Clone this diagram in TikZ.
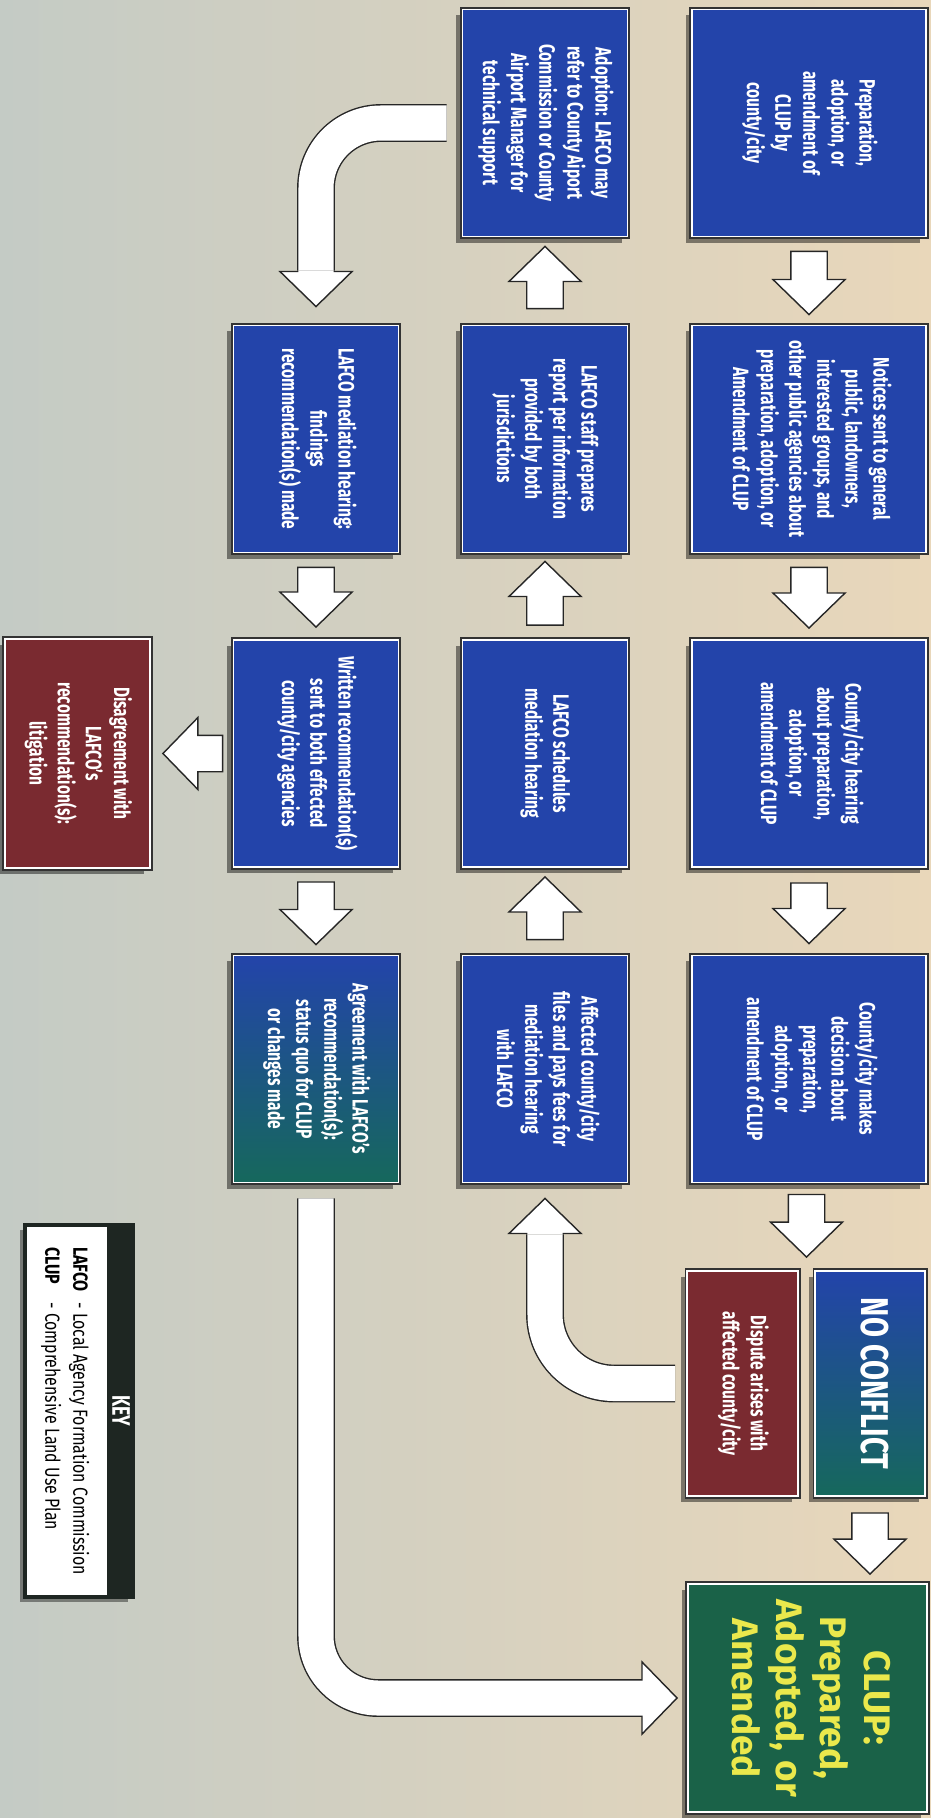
\documentclass[tikz,border=0pt]{standalone}
\usepackage{fontspec}
\usepackage{graphicx}
\setmainfont{Fira Sans}
\newfontfamily\condfont{Fira Sans}[FakeStretch=0.7]
\newfontfamily\widefont{Fira Sans}[FakeStretch=0.75]
\newfontfamily\keyfont{Fira Sans}[FakeStretch=0.78]
\usetikzlibrary{calc, shadows}

\definecolor{boxblue}{RGB}{35,68,170}
\definecolor{boxteal}{RGB}{22,104,92}
\definecolor{boxred}{RGB}{122,42,48}
\definecolor{clupgreen}{RGB}{26,98,72}
\definecolor{clupyellow}{RGB}{234,232,76}
\definecolor{keydark}{RGB}{30,38,34}
\definecolor{bgleft}{RGB}{196,203,197}
\definecolor{bgmid}{RGB}{216,212,196}
\definecolor{bgright}{RGB}{233,215,186}

\tikzset{
  flowbox/.style={draw=white, line width=0.5pt, inner sep=0pt, text=white,
    minimum width=1.65cm, minimum height=2.27cm,
    font=\condfont\bfseries\fontsize{6.3}{8}\selectfont,
    drop shadow={shadow xshift=-0.06cm, shadow yshift=-0.06cm, opacity=0.45, fill=black},
    preaction={draw=black!80, line width=1.4pt}},
  bluebox/.style={flowbox, fill=boxblue},
  redbox/.style={flowbox, fill=boxred},
  fadebox/.style={flowbox, top color=boxblue, bottom color=boxteal},
  clupbox/.style={flowbox, fill=clupgreen, text=clupyellow,
    font=\bfseries\fontsize{10.5}{12.5}\selectfont},
  keybox/.style={draw=keydark, line width=1.2pt, fill=white, minimum width=1.08cm,
    minimum height=3.72cm, inner sep=0pt,
    drop shadow={shadow xshift=-0.05cm, shadow yshift=-0.05cm, opacity=0.4, fill=black}},
  blockarrow/.style={draw=black!85, fill=white, line width=0.4pt},
  band/.style={draw=black!85, line width=0.4pt, double=white, double distance=3.5mm}
}

% rotated multi-line label
\newcommand{\vtext}[1]{\rotatebox{-90}{\begin{tabular}{@{}c@{}}#1\end{tabular}}}

% block arrow from tail #2 to tip #3 (#1 closes the tail)
\newcommand{\flowarrow}[3][-- cycle]{%
  \draw[blockarrow] let \p1=(#2), \p2=(#3),
      \n1={atan2(\y2-\y1,\x2-\x1)}, \n2={veclen(\x2-\x1,\y2-\y1)} in
    ($(\p1)+({\n1+90}:1.82mm)$)
    -- ($(\p1)+({\n1}:{\n2-3.5mm})+({\n1+90}:1.82mm)$)
    -- ($(\p1)+({\n1}:{\n2-3.5mm})+({\n1+90}:3.6mm)$)
    -- (\p2)
    -- ($(\p1)+({\n1}:{\n2-3.5mm})+({\n1-90}:3.6mm)$)
    -- ($(\p1)+({\n1}:{\n2-3.5mm})+({\n1-90}:1.82mm)$)
    -- ($(\p1)+({\n1-90}:1.82mm)$) #1;
}

\begin{document}
\begin{tikzpicture}[x=0.01cm, y=-0.01cm]
  \useasboundingbox (0,0) rectangle (931,1818);
  \shade[left color=bgleft, middle color=bgmid, right color=bgright] (0,0) rectangle (931,1818);

  % County / city column
  \node[bluebox, minimum width=2.34cm] (prep) at (809,123)
    {\vtext{Preparation,\\adoption, or\\amendment of\\CLUP by\\county/city}};
  \node[bluebox, minimum width=2.34cm] (notice) at (809,439)
    {\vtext{Notices sent to general\\public, landowners,\\interested groups, and\\other public agencies about\\preparation, adoption, or\\Amendment of CLUP}};
  \node[bluebox, minimum width=2.34cm] (hearing) at (809,753.5)
    {\vtext{County/city hearing\\about preparation,\\adoption, or\\amendment of CLUP}};
  \node[bluebox, minimum width=2.34cm] (decide) at (809,1069)
    {\vtext{County/city makes\\decision about\\preparation,\\adoption, or\\amendment of CLUP}};
  \node[redbox, minimum width=1.11cm, minimum height=2.25cm] (dispute) at (742.5,1383.5)
    {\vtext{Dispute arises with\\affected county/city}};
  \node[fadebox, minimum width=1.10cm, minimum height=2.25cm,
    font=\widefont\bfseries\fontsize{11}{12}\selectfont] (noconf) at (870,1383.5)
    {\vtext{NO CONFLICT}};
  \node[clupbox, minimum width=2.39cm, minimum height=2.28cm] (clup) at (807.5,1698)
    {\vtext{CLUP:\\Prepared,\\Adopted, or\\Amended}};

  % LAFCO column
  \node[bluebox] (adopt) at (545,123)
    {\vtext{Adoption: LAFCO may\\refer to County Aiport\\Commission or County\\Airport Manager for\\technical support}};
  \node[bluebox] (staff) at (545,439)
    {\vtext{LAFCO staff prepares\\report per information\\provided by both\\jurisdictions}};
  \node[bluebox] (sched) at (545,753.5)
    {\vtext{LAFCO schedules\\mediation hearing}};
  \node[bluebox] (affect) at (545,1069)
    {\vtext{Affected county/city\\files and pays fees for\\mediation hearing\\with LAFCO}};

  % Outcome column
  \node[bluebox] (mediate) at (316,439)
    {\vtext{LAFCO mediation hearing:\\findings\\recommendation(s) made}};
  \node[bluebox] (written) at (316,753.5)
    {\vtext{Written recommendation(s)\\sent to both effected\\county/city agencies}};
  \node[fadebox] (agree) at (316,1069)
    {\vtext{Agreement with LAFCO’s\\recommendation(s):\\status quo for CLUP\\or changes made}};
  \node[redbox, minimum width=1.45cm, minimum height=2.29cm] (disagree) at (77.5,753.5)
    {\vtext{Disagreement with\\LAFCO’s\\recommendation(s):\\litigation}};

  % Key
  \node[keybox] (key) at (79,1411) {};
  \fill[keydark] ($(key.north east)+(-28,0)$) rectangle (key.south east);
  \node[text=white, font=\condfont\bfseries\fontsize{7.2}{8}\selectfont] (keylabel)
    at ($(key.east)+(-14,0)$) {\rotatebox{-90}{KEY}};
  \node[font=\keyfont\fontsize{5.8}{8}\selectfont] (keyentries) at ($(key.center)+(-14,0)$)
    {\rotatebox{-90}{\begin{tabular}{@{}l@{\hspace{3pt}}l@{}}
      \textbf{LAFCO} & - Local Agency Formation Commission\\
      \textbf{CLUP} & - Comprehensive Land Use Plan
    \end{tabular}}};

  % Straight arrows
  \coordinate (split) at ($(dispute.north east)!0.5!(noconf.north west)$);
  \coordinate (cluptip) at (noconf.south |- clup.north);
  \flowarrow{$(prep.south)+(0,14)$}{$(notice.north)+(0,-10)$}
  \flowarrow{$(notice.south)+(0,14)$}{$(hearing.north)+(0,-11)$}
  \flowarrow{$(hearing.south)+(0,15)$}{$(decide.north)+(0,-11)$}
  \flowarrow{$(split |- decide.south)+(0,11)$}{$(split)+(0,-13)$}
  \flowarrow{$(noconf.south)+(0,16)$}{$(cluptip)+(0,-9)$}
  \flowarrow{$(staff.north)+(0,-16)$}{$(adopt.south)+(0,9)$}
  \flowarrow{$(sched.north)+(0,-14)$}{$(staff.south)+(0,8)$}
  \flowarrow{$(affect.north)+(0,-15)$}{$(sched.south)+(0,9)$}
  \flowarrow{$(mediate.south)+(0,14)$}{$(written.north)+(0,-12)$}
  \flowarrow{$(written.south)+(0,14)$}{$(agree.north)+(0,-10)$}
  \flowarrow{$(written.west)+(-10,0)$}{$(disagree.east)+(12,0)$}

  % Bent arrows
  \draw[band, rounded corners=6.5mm] ($(adopt.west)+(-15,0)$) -| ($(mediate.north)+(0,-54)$);
  \flowarrow[]{$(mediate.north)+(0,-54)$}{$(mediate.north)+(0,-18)$}
  \draw[band, rounded corners=6.9mm] ($(dispute.west)+(-11,0)$) -| ($(affect.south)+(0,51)$);
  \flowarrow[]{$(affect.south)+(0,51)$}{$(affect.south)+(0,15)$}
  \draw[band, rounded corners=6.2mm] ($(agree.south)+(0,15)$) |- ($(clup.west)+(-46,0)$);
  \flowarrow[]{$(clup.west)+(-46,0)$}{$(clup.west)+(-10,0)$}
\end{tikzpicture}
\end{document}
